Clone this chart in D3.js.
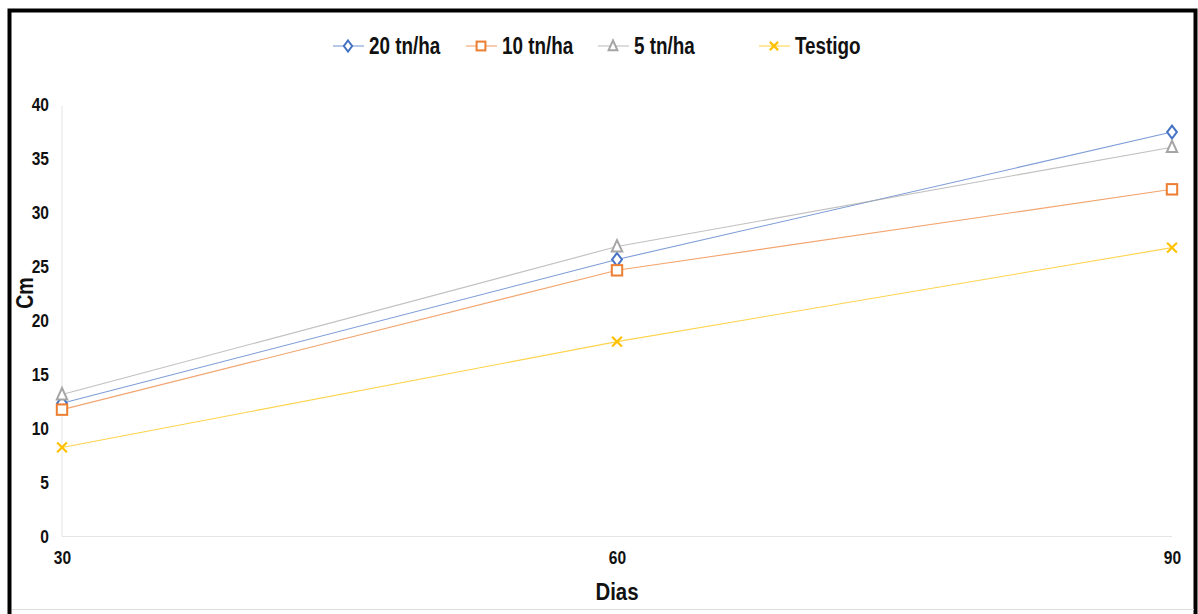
<!DOCTYPE html>
<html>
<head>
<meta charset="utf-8">
<script src="https://cdn.jsdelivr.net/npm/d3@7"></script>
<style>
  html, body { margin: 0; padding: 0; background: #fff; }
  svg text { font-family: "Liberation Sans", Arial, sans-serif; font-weight: bold; fill: #111; }
</style>
</head>
<body>
<svg id="chart" width="1198" height="614"></svg>
<script>
// Plant height (cm) by days after sowing, per fertilizer dose
const days = [30, 60, 90];
const yTicks = [0, 5, 10, 15, 20, 25, 30, 35, 40];
const seriesNames = ["20 tn/ha", "10 tn/ha", "5 tn/ha", "Testigo"];
const dose20 = [12.3, 25.6, 37.4];
const dose10 = [11.7, 24.6, 32.1];
const dose5 = [13.1, 26.8, 36.0];
const testigo = [8.2, 18.0, 26.7];
const colors = ["#4472C4", "#ED7D31", "#A5A5A5", "#FFC000"];
const symbols = ["diamond", "square", "triangle", "cross"];

const series = [dose20, dose10, dose5, testigo].map((vals, i) => ({
  name: seriesNames[i], values: vals, color: colors[i], symbol: symbols[i]
}));

const NARROW = 0.82; // horizontal squeeze giving a condensed face

const svg = d3.select("#chart");

// outer frame
svg.append("rect").attr("x", 9.5).attr("y", 10.5).attr("width", 1186).attr("height", 620)
  .attr("fill", "none").attr("stroke", "#000").attr("stroke-width", 4);
svg.append("line").attr("x1", 12).attr("x2", 1194).attr("y1", 609.5).attr("y2", 609.5)
  .attr("stroke", "#ddd").attr("stroke-width", 1);

const x = d3.scaleLinear().domain([30, 90]).range([62, 1172]);
const y = d3.scaleLinear().domain([0, 40]).range([536, 104]);

// axis lines
svg.append("line").attr("x1", 62).attr("x2", 62).attr("y1", y(40) + 2).attr("y2", y(0))
  .attr("stroke", "#e4e4e4").attr("stroke-width", 1);
svg.append("line").attr("x1", 62).attr("x2", 1172).attr("y1", y(0) + 0.5).attr("y2", y(0) + 0.5)
  .attr("stroke", "#e4e4e4").attr("stroke-width", 1);

// y axis labels
const yAxis = d3.axisLeft(y).tickValues(yTicks).tickSize(0).tickPadding(0);
const gy = svg.append("g").attr("transform", "translate(49,0)").call(yAxis);
gy.select(".domain").remove();
gy.selectAll("text").attr("font-size", 19).attr("font-family", null)
  .attr("transform", `scale(${NARROW},1)`);

// x axis labels
const xAxis = d3.axisBottom(x).tickValues(days).tickSize(0).tickPadding(0);
const gx = svg.append("g").attr("transform", "translate(0,551)").call(xAxis);
gx.select(".domain").remove();
gx.selectAll("text").attr("font-size", 19).attr("font-family", null)
  .attr("transform", `scale(${NARROW},1)`);

// axis titles
svg.append("text").attr("transform", `translate(617,600) scale(0.85,1)`).attr("text-anchor", "middle")
  .attr("font-size", 24).text("Dias");
svg.append("text").attr("transform", `translate(33,293) rotate(-90) scale(0.85,1)`).attr("text-anchor", "middle")
  .attr("font-size", 23).text("Cm");

// lines
const line = d3.line().x((d, i) => x(days[i])).y(d => y(d));
series.forEach(s => {
  svg.append("path").datum(s.values).attr("d", line)
    .attr("fill", "none").attr("stroke", s.color).attr("stroke-width", 1.1).attr("stroke-opacity", 0.7);
});

// markers
function drawMarker(g, type, cx, cy, color, sz) {
  if (type === "diamond") {
    g.append("path").attr("d", `M${cx},${cy - sz} L${cx + sz * 0.75},${cy} L${cx},${cy + sz} L${cx - sz * 0.75},${cy} Z`)
      .attr("fill", "#fff").attr("stroke", color).attr("stroke-width", 2);
  } else if (type === "square") {
    g.append("rect").attr("x", cx - sz * 0.8).attr("y", cy - sz * 0.8).attr("width", sz * 1.6).attr("height", sz * 1.6)
      .attr("fill", "#fff").attr("stroke", color).attr("stroke-width", 2);
  } else if (type === "triangle") {
    g.append("path").attr("d", `M${cx},${cy - sz} L${cx + sz * 0.8},${cy + sz * 0.75} L${cx - sz * 0.8},${cy + sz * 0.75} Z`)
      .attr("fill", "#fff").attr("stroke", color).attr("stroke-width", 2);
  } else {
    const k = sz * 0.75;
    g.append("path").attr("d", `M${cx - k},${cy - k} L${cx + k},${cy + k} M${cx + k},${cy - k} L${cx - k},${cy + k}`)
      .attr("fill", "none").attr("stroke", color).attr("stroke-width", 2.2);
  }
}
series.forEach(s => {
  const g = svg.append("g");
  s.values.forEach((v, i) => drawMarker(g, s.symbol, x(days[i]), y(v), s.color, 6.5));
});

// legend
const legendMarkerX = [348, 481, 613, 774];
series.forEach((s, i) => {
  const g = svg.append("g").attr("transform", `translate(${legendMarkerX[i]},46)`);
  g.append("line").attr("x1", -15).attr("x2", 16).attr("y1", 0).attr("y2", 0)
    .attr("stroke", s.color).attr("stroke-width", 1.1).attr("stroke-opacity", 0.7);
  drawMarker(g, s.symbol, 0, 0, s.color, 5.5);
  g.append("text").attr("transform", `translate(21,8) scale(${NARROW},1)`)
    .attr("font-size", 23).text(s.name);
});
</script>
</body>
</html>
